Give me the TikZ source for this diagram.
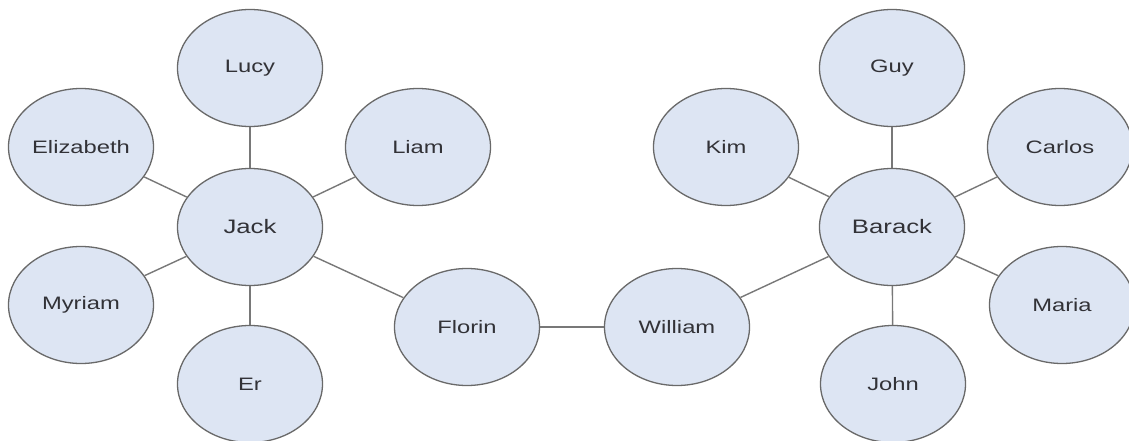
\documentclass[tikz,border=0pt]{standalone}
\usepackage{fontspec}
\setmainfont{Liberation Sans}
\usetikzlibrary{shapes.geometric}
\definecolor{nodefill}{RGB}{221,229,243}
\definecolor{nodeedge}{RGB}{105,105,105}
\definecolor{edgecol}{RGB}{120,120,120}
\definecolor{txt}{RGB}{50,50,55}
\newcommand{\widetext}[1]{\scalebox{1.32}[1]{#1}}
\tikzset{
  person/.style={ellipse, draw=nodeedge, line width=1.3pt, fill=nodefill,
    minimum width=145pt, minimum height=117pt, inner sep=0pt,
    text=txt, font=\fontsize{18}{20}\selectfont},
  hub/.style={person, font=\fontsize{19.5}{22}\selectfont},
  link/.style={draw=edgecol, line width=1.4pt}
}
\begin{document}
\begin{tikzpicture}[x=1pt,y=-1pt]
\useasboundingbox[fill=white] (0,0) rectangle (1129,441);
\clip (0,0) rectangle (1129,441);
% left cluster
\node[hub] (jack) at (250,227) {\widetext{Jack}};
\node[person] (lucy) at (250,68) {\widetext{Lucy}};
\node[person] (eliz) at (81,147) {\widetext{Elizabeth}};
\node[person] (liam) at (418,147) {\widetext{Liam}};
\node[person] (myriam) at (81,305) {\widetext{Myriam}};
\node[person] (er) at (250,384) {\widetext{Er}};
\node[person] (florin) at (467,327) {\widetext{Florin}};
% right cluster
\node[person] (william) at (677,327) {\widetext{William}};
\node[hub] (barack) at (892,227) {\widetext{Barack}};
\node[person] (guy) at (892,68) {\widetext{Guy}};
\node[person] (kim) at (726,147) {\widetext{Kim}};
\node[person] (carlos) at (1060,147) {\widetext{Carlos}};
\node[person] (maria) at (1062,305) {\widetext{Maria}};
\node[person] (john) at (893,384) {\widetext{John}};
% connectors
\path[link] (jack) -- (lucy);
\path[link] (jack) -- (eliz);
\path[link] (jack) -- (liam);
\path[link] (jack) -- (myriam);
\path[link] (jack) -- (er);
\path[link] (jack) -- (florin);
\path[link] (florin) -- (william);
\path[link] (william) -- (barack);
\path[link] (barack) -- (guy);
\path[link] (barack) -- (kim);
\path[link] (barack) -- (carlos);
\path[link] (barack) -- (maria);
\path[link] (barack) -- (john);
\end{tikzpicture}
\end{document}
